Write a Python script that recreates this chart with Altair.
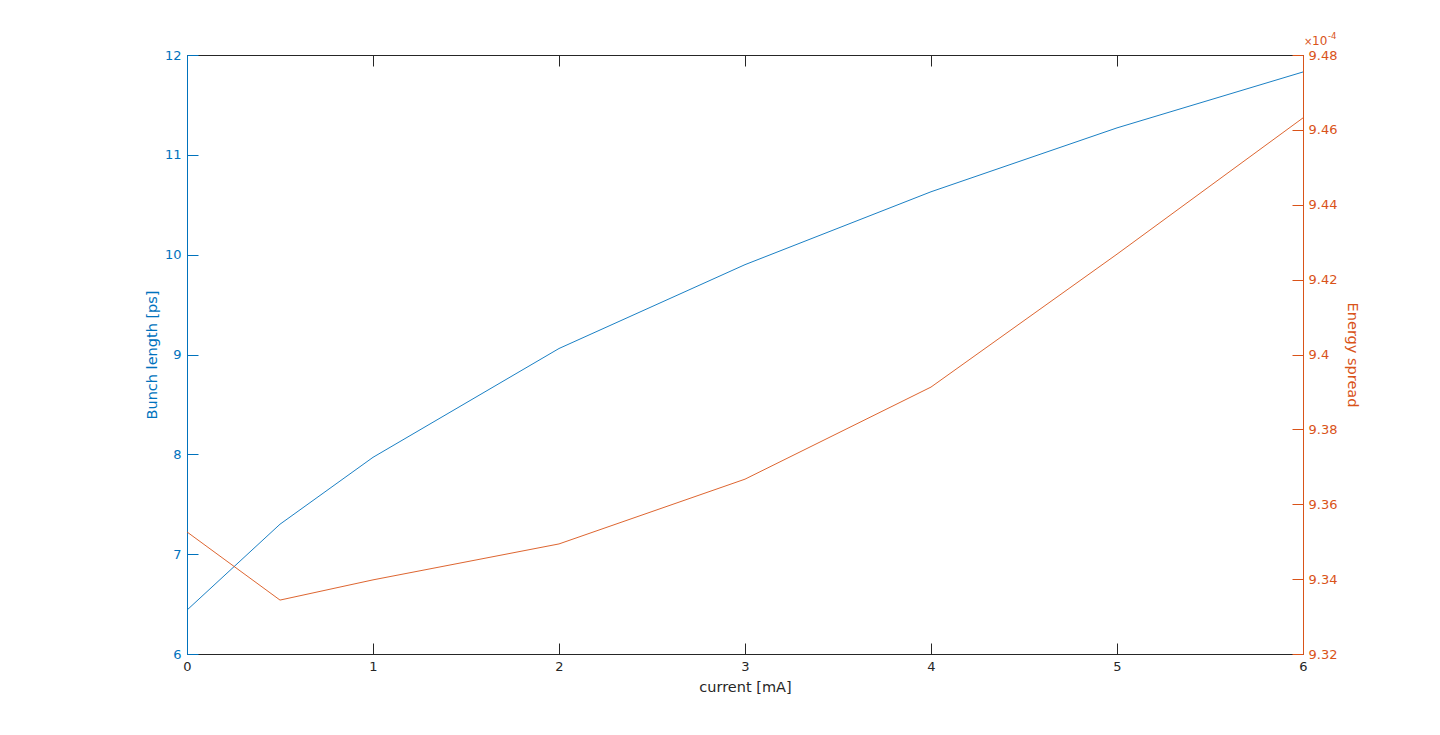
import altair as alt
import pandas as pd

# ---- data ----
current = [0, 0.5, 1, 2, 3, 4, 5, 6]
bunch_length = [6.44, 7.30, 7.97, 9.06, 9.90, 10.63, 11.27, 11.83]
energy_spread = [9.3526, 9.3344, 9.3398, 9.3494, 9.3667, 9.3913, 9.4268, 9.4632]  # x 1e-4
x_ticks = [0, 1, 2, 3, 4, 5, 6]
bl_ticks = [6, 7, 8, 9, 10, 11, 12]
es_ticks = [9.32, 9.34, 9.36, 9.38, 9.40, 9.42, 9.44, 9.46, 9.48]
exp_times = ["×"]
exp_base = ["10"]
exp_power = ["-4"]

df = pd.DataFrame({"current": current, "bunch": bunch_length, "spread": energy_spread})

BLUE = "#0072BD"
ORANGE = "#D95319"
DARK = "#262626"
FONT = "DejaVu Sans"
TICK = alt.ExprRef("-11")
LFS = 13
TFS = 14.5

xscale = alt.Scale(domain=[0, 6], nice=False, zero=False)

blue = alt.Chart(df).mark_line(color=BLUE, strokeWidth=0.9).encode(
    x=alt.X("current:Q", scale=xscale,
            axis=alt.Axis(orient="bottom", values=x_ticks, title="current [mA]",
                          tickSize=TICK, labelPadding=17, titlePadding=7,
                          domainColor=DARK, tickColor=DARK, labelColor=DARK, titleColor=DARK,
                          labelFlush=False, labelOverlap=False, grid=False)),
    y=alt.Y("bunch:Q", scale=alt.Scale(domain=[6, 12], nice=False, zero=False),
            axis=alt.Axis(orient="left", values=bl_ticks, title="Bunch length [ps]",
                          tickSize=TICK, labelPadding=17, titlePadding=5,
                          domainColor=BLUE, tickColor=BLUE, labelColor=BLUE, titleColor=BLUE,
                          labelFlush=False, labelOverlap=False, grid=False)),
)

orange = alt.Chart(df).mark_line(color=ORANGE, strokeWidth=0.9).encode(
    x=alt.X("current:Q", scale=xscale,
            axis=alt.Axis(orient="top", values=x_ticks, title="", labels=False,
                          tickSize=TICK, domainColor=DARK, tickColor=DARK, grid=False)),
    y=alt.Y("spread:Q", scale=alt.Scale(domain=[9.32, 9.48], nice=False, zero=False),
            axis=alt.Axis(orient="right", values=es_ticks, format=".3~g", title="Energy spread",
                          tickSize=TICK, labelPadding=16, titlePadding=8,
                          domainColor=ORANGE, tickColor=ORANGE, labelColor=ORANGE, titleColor=ORANGE,
                          labelFlush=False, labelOverlap=False, grid=False)),
)

t_times = alt.Chart(pd.DataFrame({"t": exp_times})).mark_text(
    color=ORANGE, font=FONT, fontSize=10, align="left", baseline="middle"
).encode(text="t:N", x=alt.value(1117), y=alt.value(-13))
t_base = alt.Chart(pd.DataFrame({"t": exp_base})).mark_text(
    color=ORANGE, font=FONT, fontSize=12, align="left", baseline="middle"
).encode(text="t:N", x=alt.value(1125), y=alt.value(-14))
t_pow = alt.Chart(pd.DataFrame({"t": exp_power})).mark_text(
    color=ORANGE, font=FONT, fontSize=8.5, align="left", baseline="middle"
).encode(text="t:N", x=alt.value(1141), y=alt.value(-19))

chart = alt.layer(blue, orange, t_times, t_base, t_pow).resolve_scale(
    y="independent"
).resolve_axis(
    x="independent", y="independent"
).properties(
    width=1116, height=599,
    background="white",
    autosize=alt.AutoSizeParams(type="none"),
    padding={"left": 179, "top": 47, "right": 100, "bottom": 60},
).configure_view(stroke=None).configure_axis(
    labelFont=FONT, titleFont=FONT, labelFontSize=LFS, titleFontSize=TFS,
    titleFontWeight="normal", domainWidth=1, tickWidth=1,
)

chart.save("out.html", embed_options={"renderer": "svg", "actions": False})
